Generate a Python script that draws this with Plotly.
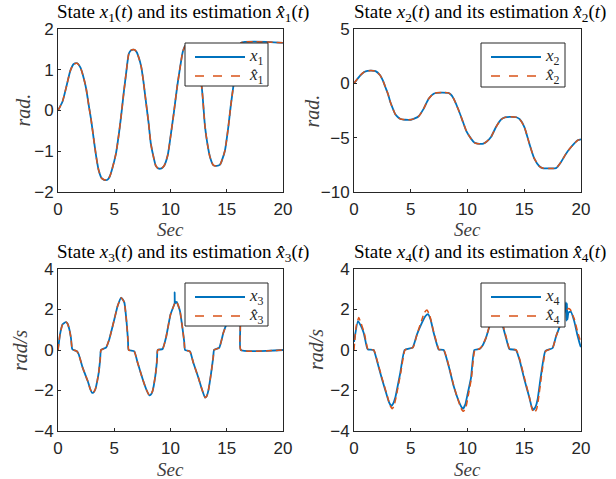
import plotly.graph_objects as go

# ---------------- data ----------------
t1 = [0, 0.4, 0.8, 1.1, 1.4, 1.7, 2.0, 2.3, 2.5, 2.75, 2.95, 3.2, 3.4, 3.6, 3.85, 4.1, 4.4, 4.6, 4.8,
      5.15, 5.4, 5.6, 5.85, 6.05, 6.3, 6.5, 6.8, 7.0, 7.2, 7.4, 7.6, 7.8, 8.05, 8.25, 8.5, 8.7, 8.9,
      9.2, 9.45, 9.75, 10.0, 10.3, 10.6, 10.85, 11.1, 11.35, 11.7, 12.0, 12.4, 12.77, 13.07, 13.3,
      13.51, 13.8, 14.1, 14.4, 14.6, 14.84, 15.14, 15.35, 15.58, 15.85, 16.1, 16.27, 20]
x1 = [0, 0.22, 0.65, 0.98, 1.14, 1.16, 1.05, 0.78, 0.54, 0.1, -0.24, -0.75, -1.14, -1.45, -1.65, -1.70,
      -1.70, -1.62, -1.45, -1.06, -0.6, -0.16, 0.45, 0.90, 1.40, 1.48, 1.49, 1.43, 1.28, 1.07, 0.7,
      0.25, -0.3, -0.81, -1.15, -1.36, -1.42, -1.42, -1.35, -1.10, -0.65, -0.05, 0.6, 1.05, 1.45,
      1.6, 1.6, 1.45, 1.1, 0.59, -0.40, -0.85, -1.14, -1.34, -1.36, -1.33, -1.2, -0.98, -0.40, 0.1,
      0.58, 1.1, 1.5, 1.66, 1.66]
x1_hat = [0, 0.22, 0.65, 0.98, 1.14, 1.16, 1.05, 0.78, 0.54, 0.1, -0.24, -0.75, -1.14, -1.45, -1.65, -1.70,
          -1.70, -1.62, -1.45, -1.06, -0.6, -0.16, 0.45, 0.90, 1.40, 1.48, 1.49, 1.43, 1.28, 1.07, 0.7,
          0.25, -0.3, -0.81, -1.15, -1.36, -1.42, -1.42, -1.35, -1.10, -0.65, -0.05, 0.6, 1.05, 1.45,
          1.6, 1.6, 1.45, 1.1, 0.59, -0.40, -0.85, -1.14, -1.34, -1.36, -1.33, -1.2, -0.98, -0.40, 0.1,
          0.58, 1.1, 1.5, 1.66, 1.66]

t2 = [0, 0.3, 0.56, 0.9, 1.2, 1.5, 1.9, 2.3, 2.55, 2.76, 3.0, 3.2, 3.45, 3.64, 3.9, 4.1, 4.5, 5.0, 5.3,
      5.7, 6.14, 6.58, 7.02, 7.3, 7.8, 8.3, 8.55, 8.78, 9.22, 9.6, 9.9, 10.31, 10.6, 10.9, 11.4, 11.7,
      12.07, 12.51, 12.95, 13.3, 13.8, 14.3, 14.6, 15.01, 15.45, 15.89, 16.33, 16.6, 17.2, 17.8, 18.24,
      18.68, 19.13, 19.71, 20]
x2 = [0, 0.4, 0.74, 1.05, 1.15, 1.17, 1.12, 0.74, 0.25, -0.34, -1.0, -1.72, -2.4, -2.85, -3.15, -3.28,
      -3.35, -3.35, -3.25, -3.03, -2.33, -1.41, -0.95, -0.87, -0.85, -0.88, -1.05, -1.41, -2.48, -3.55,
      -4.4, -5.09, -5.45, -5.55, -5.55, -5.35, -4.94, -4.02, -3.34, -3.13, -3.08, -3.12, -3.3, -4.02,
      -5.55, -6.93, -7.63, -7.8, -7.83, -7.8, -7.24, -6.47, -5.86, -5.24, -5.15]
x2_hat = [0, 0.4, 0.74, 1.05, 1.15, 1.17, 1.12, 0.74, 0.25, -0.34, -1.0, -1.72, -2.4, -2.85, -3.15, -3.28,
          -3.35, -3.35, -3.25, -3.03, -2.33, -1.41, -0.95, -0.87, -0.85, -0.88, -1.05, -1.41, -2.48, -3.55,
          -4.4, -5.09, -5.45, -5.55, -5.55, -5.35, -4.94, -4.02, -3.34, -3.13, -3.08, -3.12, -3.3, -4.02,
          -5.55, -6.93, -7.63, -7.8, -7.83, -7.8, -7.24, -6.47, -5.86, -5.24, -5.15]

t3 = [0, 0.18, 0.41, 0.7, 0.85, 1.01, 1.15, 1.24, 1.3, 1.66, 1.84, 2.19, 2.64, 2.85, 3.02, 3.15, 3.32,
      3.5, 3.62, 3.75, 3.82, 4.27, 4.56, 5.01, 5.3, 5.6, 5.75, 5.9, 6.1, 6.22, 6.28, 6.78, 7.08, 7.53,
      7.85, 8.12, 8.25, 8.41, 8.65, 8.8, 8.86, 9.3, 9.6, 10.0, 10.3, 10.37, 10.37, 10.4, 10.55, 10.84,
      11.08, 11.22, 11.29, 11.73, 12.03, 12.48, 12.8, 13.07, 13.2, 13.36, 13.66, 13.8, 13.87, 14.34,
      14.7, 15.0, 15.4, 15.7, 16.0, 16.2, 16.25, 20]
x3 = [0, 0.77, 1.27, 1.38, 1.3, 1.02, 0.6, 0.1, 0.02, -0.05, -0.21, -0.87, -1.53, -1.9, -2.11, -2.1,
      -1.94, -1.5, -1.12, -0.45, 0.0, 0.12, 0.53, 1.52, 2.17, 2.58, 2.5, 2.34, 1.36, 0.5, 0.0, -0.07,
      -0.63, -1.45, -1.95, -2.24, -2.2, -2.02, -1.28, -0.5, 0.0, 0.05, 0.61, 1.75, 2.2, 2.3, 2.85, 2.3,
      2.38, 1.93, 1.02, 0.4, 0.0, -0.07, -0.63, -1.37, -1.95, -2.35, -2.3, -2.02, -0.95, -0.35, 0.0,
      0.12, 0.85, 1.3, 1.75, 1.85, 1.6, 1.2, 0.0, 0.0]
x3_hat = [0, 0.77, 1.27, 1.38, 1.3, 1.02, 0.6, 0.1, 0.02, -0.05, -0.21, -0.87, -1.53, -1.9, -2.11, -2.1,
          -1.94, -1.5, -1.12, -0.45, 0.0, 0.12, 0.53, 1.52, 2.17, 2.58, 2.5, 2.34, 1.36, 0.5, 0.0, -0.07,
          -0.63, -1.45, -1.95, -2.24, -2.2, -2.02, -1.28, -0.5, 0.0, 0.05, 0.61, 1.75, 2.2, 2.3, 2.3, 2.3,
          2.38, 1.93, 1.02, 0.4, 0.0, -0.07, -0.63, -1.37, -1.95, -2.35, -2.3, -2.02, -0.95, -0.35, 0.0,
          0.12, 0.85, 1.3, 1.75, 1.85, 1.6, 1.2, 0.0, 0.0]

t4 = [0, 0.35, 0.6, 0.85, 1.15, 1.23, 1.73, 2.03, 2.47, 2.91, 3.1, 3.29, 3.45, 3.64, 4.08, 4.46, 5.17,
      5.55, 5.99, 6.3, 6.52, 6.75, 7.02, 7.4, 7.46, 7.9, 8.34, 8.78, 9.22, 9.45, 9.6, 9.8, 10.0, 10.31,
      10.6, 11.04, 11.3, 11.63, 12.07, 12.37, 12.7, 13.0, 13.1, 13.39, 13.69, 14.27, 14.57, 15.01, 15.45,
      15.65, 15.8, 16.0, 16.18, 16.47, 16.86, 17.5, 17.8, 18.24, 18.53, 18.68, 18.72, 18.76, 18.8, 18.9,
      19.1, 19.4, 19.7, 19.95, 20]
x4 = [0.4, 1.43, 1.2, 0.85, 0.1, 0.02, 0.0, -0.54, -1.45, -2.27, -2.6, -2.77, -2.65, -2.35, -1.12, 0.0,
      0.12, 0.77, 1.35, 1.68, 1.77, 1.5, 0.85, 0.1, 0.02, 0.0, -0.79, -1.78, -2.52, -2.8, -2.9, -2.7,
      -2.2, -1.37, 0.0, 0.05, 0.2, 0.6, 1.4, 1.7, 1.85, 1.6, 1.22, 0.61, 0.05, 0.0, -0.46, -1.45, -2.35,
      -2.8, -2.96, -2.8, -2.43, -1.27, -0.05, 0.1, 0.67, 1.33, 1.84, 2.35, 1.45, 2.3, 1.5, 1.85, 1.9,
      1.43, 0.7, 0.2, 0.15]
t4_hat = [0, 0.2, 0.42, 0.6, 0.9, 1.18, 1.25, 1.75, 2.05, 2.5, 2.95, 3.15, 3.36, 3.5, 3.7, 4.12, 4.5,
          5.2, 5.55, 5.95, 6.2, 6.43, 6.65, 7.02, 7.42, 7.5, 7.92, 8.36, 8.8, 9.25, 9.5, 9.65, 9.85,
          10.05, 10.35, 10.65, 11.05, 11.3, 11.63, 12.07, 12.37, 12.7, 13.0, 13.12, 13.42, 13.72, 14.3,
          14.6, 15.05, 15.48, 15.7, 15.9, 16.1, 16.25, 16.52, 16.9, 17.5, 17.8, 18.24, 18.53, 18.9, 19.05,
          19.4, 19.7, 20]
x4_hat = [0.0, 1.2, 1.6, 1.35, 0.85, 0.1, 0.02, 0.0, -0.54, -1.45, -2.3, -2.7, -2.9, -2.8, -2.35, -1.12,
          0.0, 0.12, 0.77, 1.45, 1.85, 1.97, 1.75, 0.9, 0.1, 0.02, 0.0, -0.79, -1.8, -2.6, -2.95, -3.03,
          -2.85, -2.3, -1.37, 0.0, 0.05, 0.2, 0.6, 1.45, 1.8, 1.95, 1.7, 1.25, 0.61, 0.05, 0.0, -0.46,
          -1.45, -2.4, -2.95, -3.1, -2.9, -2.43, -1.27, -0.05, 0.1, 0.67, 1.33, 1.84, 2.05, 2.0, 1.55,
          0.9, 0.35]

x_ticks = [0, 5, 10, 15, 20]
y_ticks = [[-2, -1, 0, 1, 2], [-10, -5, 0, 5], [-4, -2, 0, 2, 4], [-4, -2, 0, 2, 4]]
y_ranges = [[-2, 2], [-10, 5], [-4, 4], [-4, 4]]
y_labels = ["rad.", "rad.", "rad/s", "rad/s"]

# ---------------- layout geometry (pixels) ----------------
W, H = 616, 479
boxes = [(58, 283, 29, 192), (354, 581, 29, 192), (58, 283, 269, 431), (354, 581, 269, 431)]
legend_box = [(185, 268, 43, 86), (481, 565, 43, 87), (185, 268, 283, 326), (481, 565, 283, 327)]
ylab_x = [23, 312, 20, 316]

BLUE = "#0072BD"
RED = "#D95319"
AX = "#262626"
SERIF = "Liberation Serif"


def px(x):
    return x / W


def py(y):
    return 1 - y / H


fig = go.Figure()
series = [(t1, x1, t1, x1_hat), (t2, x2, t2, x2_hat), (t3, x3, t3, x3_hat), (t4, x4, t4_hat, x4_hat)]
for k, (ta, xa, tb, xb) in enumerate(series):
    n = k + 1
    ax = "" if n == 1 else str(n)
    sm = 0.6 if n <= 2 else 0.4
    fig.add_trace(go.Scatter(x=ta, y=xa, mode="lines", xaxis="x" + ax, yaxis="y" + ax,
                             name=f"x{n}", showlegend=False,
                             line=dict(color=BLUE, width=1.8, shape="spline", smoothing=sm)))
    fig.add_trace(go.Scatter(x=tb, y=xb, mode="lines", xaxis="x" + ax, yaxis="y" + ax,
                             name=f"x{n} hat", showlegend=False,
                             line=dict(color=RED, width=1.5, dash="6px,4px", shape="spline",
                                       smoothing=sm)))

layout = dict(width=W, height=H, margin=dict(l=0, r=0, t=0, b=0, autoexpand=False),
              paper_bgcolor="white", plot_bgcolor="white", showlegend=False)
annotations = []
shapes = []
for k, (x0, x1p, y0, y1p) in enumerate(boxes):
    n = k + 1
    ax = "" if n == 1 else str(n)
    common = dict(showline=True, linecolor=AX, linewidth=1, mirror=True, ticks="inside", ticklen=3,
                  tickcolor=AX, showgrid=False, zeroline=False, automargin=False,
                  tickfont=dict(family="Liberation Sans", size=17, color=AX))
    layout["xaxis" + ax] = dict(common, domain=[px(x0), px(x1p)], range=[0, 20], tickvals=x_ticks,
                                anchor="y" + ax, ticklabelstandoff=2)
    layout["yaxis" + ax] = dict(common, domain=[py(y1p), py(y0)], range=y_ranges[k],
                                tickvals=y_ticks[k], anchor="x" + ax)

    # legend box (drawn as layout shapes + text)
    lx0, lx1, ly0, ly1 = legend_box[k]
    shapes.append(dict(type="rect", xref="paper", yref="paper", x0=px(lx0), x1=px(lx1),
                       y0=py(ly1), y1=py(ly0), fillcolor="white", line=dict(color=AX, width=1),
                       layer="above"))
    for j, (col, dash, lab) in enumerate([(BLUE, "solid", f"<i>x</i><sub>{n}</sub>"),
                                          (RED, "dash", f"<i>x\u0302</i><sub>{n}</sub>")]):
        yy = ly0 + 14 + j * 19
        shapes.append(dict(type="line", xref="paper", yref="paper", x0=px(lx0 + 10), x1=px(lx0 + 60),
                           y0=py(yy), y1=py(yy), layer="above",
                           line=dict(color=col, width=1.8 if j == 0 else 1.5, dash=dash)))
        annotations.append(dict(xref="paper", yref="paper", x=px(lx0 + 62), y=py(yy),
                                xanchor="left", yanchor="middle", showarrow=False, text=lab,
                                font=dict(family=SERIF, size=17, color=AX)))

    cx = (x0 + x1p) / 2
    annotations.append(dict(xref="paper", yref="paper", x=px(cx), y=py(13 if k < 2 else 253),
                            xanchor="center", yanchor="middle", showarrow=False, xshift=12,
                            text=f"State <i>x</i><sub>{n}</sub>(<i>t</i>) and its estimation "
                                 f"<i>x\u0302</i><sub>{n}</sub>(<i>t</i>)",
                            font=dict(family=SERIF, size=19, color="black")))
    annotations.append(dict(xref="paper", yref="paper", x=px(cx), y=py(230 if k < 2 else 469),
                            xanchor="center", yanchor="middle", showarrow=False, text="<i>Sec</i>",
                            font=dict(family=SERIF, size=19, color="#404040")))
    annotations.append(dict(xref="paper", yref="paper", x=px(ylab_x[k]), y=py((y0 + y1p) / 2),
                            xanchor="center", yanchor="middle", showarrow=False, textangle=-90,
                            text=f"<i>{y_labels[k]}</i>",
                            font=dict(family=SERIF, size=20, color="#404040")))
layout["annotations"] = annotations
layout["shapes"] = shapes
fig.update_layout(**layout)
fig.write_html("out.html")
